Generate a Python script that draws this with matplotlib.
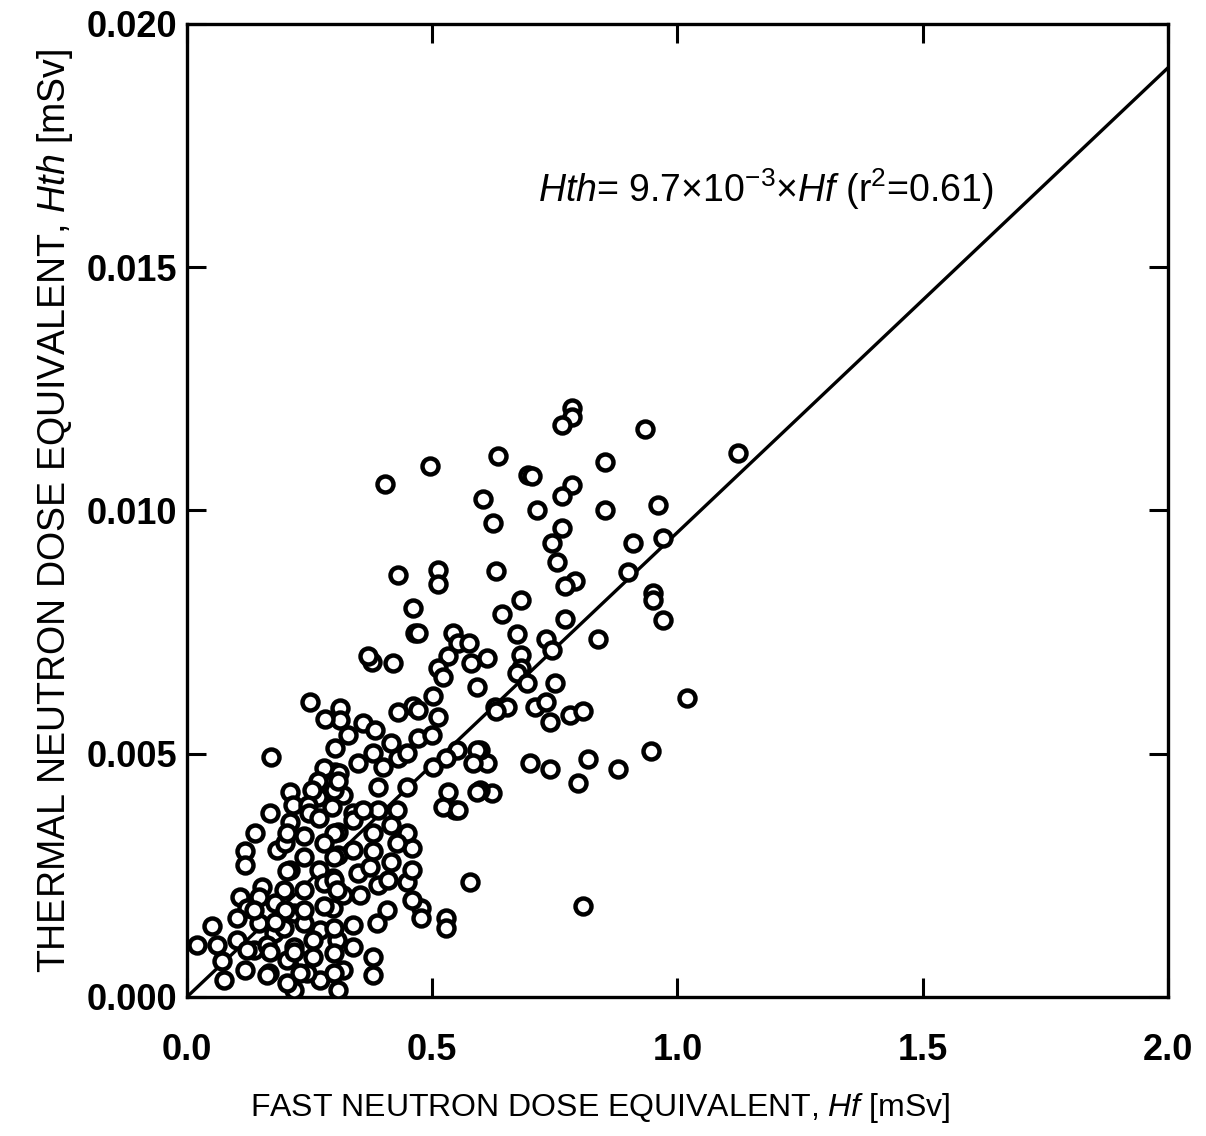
import matplotlib
matplotlib.use("Agg")
import matplotlib.pyplot as plt

# values (Hf and Hth in mSv)
hf_upper = [0.784, 0.784, 0.764, 0.934, 1.124, 0.635, 0.495, 0.404, 0.696, 0.703,
            0.852, 0.784, 0.764, 0.604, 0.713, 0.852, 0.961, 0.624, 0.764, 0.744,
            0.910, 0.971, 0.754, 0.900, 0.431, 0.512, 0.512, 0.631, 0.791, 0.771,
            0.951, 0.951, 0.971, 0.682, 0.461, 0.642, 0.771, 0.465, 0.472, 0.672,
            0.543, 0.553, 0.574, 0.733, 0.744, 0.839, 0.421, 0.533, 0.512, 0.523,
            0.580, 0.611, 0.591, 0.682, 0.682, 0.672, 0.693, 0.750, 1.019, 0.502,
            0.461, 0.472, 0.431, 0.512, 0.628, 0.652, 0.631, 0.709, 0.733, 0.781,
            0.808, 0.740, 0.947, 0.818, 0.879, 0.798, 0.699, 0.740, 0.611, 0.597,
            0.621, 0.597, 0.808]
hth_upper = [0.01210, 0.01193, 0.01176, 0.01167, 0.01118, 0.01111, 0.01092, 0.01054, 0.01073, 0.01071,
             0.01099, 0.01053, 0.01030, 0.01023, 0.01001, 0.01001, 0.01012, 0.00974, 0.00964, 0.00933,
             0.00933, 0.00943, 0.00895, 0.00874, 0.00868, 0.00878, 0.00849, 0.00876, 0.00856, 0.00844,
             0.00830, 0.00815, 0.00775, 0.00816, 0.00799, 0.00787, 0.00777, 0.00748, 0.00748, 0.00746,
             0.00748, 0.00728, 0.00727, 0.00735, 0.00713, 0.00735, 0.00687, 0.00700, 0.00676, 0.00657,
             0.00686, 0.00696, 0.00638, 0.00703, 0.00676, 0.00666, 0.00645, 0.00645, 0.00614, 0.00619,
             0.00598, 0.00589, 0.00585, 0.00576, 0.00597, 0.00597, 0.00587, 0.00597, 0.00607, 0.00580,
             0.00587, 0.00566, 0.00506, 0.00489, 0.00468, 0.00439, 0.00480, 0.00468, 0.00480, 0.00508,
             0.00420, 0.00426, 0.00187]

hf_mid = [0.377, 0.370, 0.312, 0.312, 0.359, 0.383, 0.329, 0.302, 0.417, 0.431, 0.472,
          0.499, 0.380, 0.349, 0.400, 0.448, 0.550, 0.529, 0.502, 0.591, 0.584,
          0.302, 0.390, 0.448, 0.319, 0.533, 0.591, 0.546, 0.390, 0.428, 0.339,
          0.523, 0.553, 0.577, 0.529, 0.529, 0.478, 0.478, 0.458, 0.448, 0.458,
          0.458, 0.448, 0.428, 0.417, 0.339, 0.380, 0.380, 0.417, 0.308, 0.349,
          0.390, 0.410, 0.319, 0.353, 0.407, 0.387, 0.298, 0.339, 0.305, 0.339,
          0.319, 0.380, 0.380, 0.308, 0.308, 0.339, 0.298, 0.373, 0.359]
hth_mid = [0.00689, 0.00700, 0.00594, 0.00569, 0.00563, 0.00549, 0.00539, 0.00511, 0.00522, 0.00491, 0.00532,
           0.00539, 0.00501, 0.00480, 0.00473, 0.00501, 0.00508, 0.00491, 0.00473, 0.00508, 0.00480,
           0.00463, 0.00432, 0.00432, 0.00415, 0.00422, 0.00422, 0.00384, 0.00384, 0.00384, 0.00378,
           0.00391, 0.00384, 0.00237, 0.00162, 0.00141, 0.00182, 0.00162, 0.00199, 0.00237, 0.00261,
           0.00306, 0.00337, 0.00316, 0.00354, 0.00364, 0.00337, 0.00299, 0.00278, 0.00292, 0.00254,
           0.00230, 0.00241, 0.00210, 0.00210, 0.00179, 0.00152, 0.00182, 0.00148, 0.00117, 0.00103,
           0.00056, 0.00083, 0.00045, 0.00014, 0.00340, 0.00302, 0.00244, 0.00268, 0.00384]

hf_low = [0.251, 0.171, 0.282, 0.279, 0.309, 0.268, 0.299, 0.211, 0.268, 0.170,
          0.308, 0.254, 0.217, 0.247, 0.295, 0.139, 0.119, 0.119, 0.183, 0.200,
          0.211, 0.248, 0.269, 0.299, 0.279, 0.238, 0.269, 0.211, 0.299, 0.153,
          0.197, 0.238, 0.279, 0.109, 0.146, 0.180, 0.218, 0.122, 0.102, 0.146,
          0.177, 0.197, 0.238, 0.272, 0.051, 0.020, 0.061, 0.102, 0.136, 0.163,
          0.071, 0.119, 0.167, 0.075, 0.204, 0.238, 0.258, 0.299, 0.218, 0.204,
          0.272, 0.170, 0.204, 0.238, 0.204, 0.299, 0.200, 0.238, 0.279, 0.299,
          0.258, 0.218, 0.136, 0.180, 0.299, 0.245, 0.306, 0.122, 0.163, 0.218,
          0.231]
hth_low = [0.00607, 0.00493, 0.00571, 0.00470, 0.00460, 0.00443, 0.00426, 0.00422, 0.00412, 0.00378,
           0.00443, 0.00426, 0.00395, 0.00395, 0.00391, 0.00337, 0.00299, 0.00271, 0.00302, 0.00317,
           0.00360, 0.00378, 0.00367, 0.00337, 0.00316, 0.00288, 0.00261, 0.00261, 0.00288, 0.00227,
           0.00220, 0.00220, 0.00234, 0.00206, 0.00206, 0.00193, 0.00172, 0.00182, 0.00162, 0.00152,
           0.00131, 0.00141, 0.00152, 0.00138, 0.00145, 0.00107, 0.00107, 0.00117, 0.00097, 0.00107,
           0.00073, 0.00056, 0.00049, 0.00035, 0.00076, 0.00073, 0.00083, 0.00090, 0.00014, 0.00028,
           0.00035, 0.00093, 0.00337, 0.00330, 0.00258, 0.00241, 0.00179, 0.00179, 0.00186, 0.00141,
           0.00117, 0.00103, 0.00179, 0.00155, 0.00049, 0.00049, 0.00220, 0.00097, 0.00045, 0.00093,
           0.00049]

fit_x = [0.0, 2.0]
fit_y = [0.0, 0.0191]

hf = hf_upper + hf_mid + hf_low
hth = hth_upper + hth_mid + hth_low

plt.rcParams["font.family"] = ["Liberation Sans", "DejaVu Sans"]
plt.rcParams["mathtext.fontset"] = "custom"
plt.rcParams["mathtext.rm"] = "Liberation Sans"
plt.rcParams["mathtext.it"] = "Liberation Sans:italic"

fig = plt.figure(figsize=(12.06, 11.36), dpi=100)
ax = fig.add_axes([0.155, 0.1224, 0.8135, 0.8565])

ax.plot(fit_x, fit_y, color="black", lw=2.4, zorder=2)
ax.plot(hf, hth, linestyle="none", marker="o", ms=11.5, mew=3.2,
        mfc="white", mec="black", zorder=3)

ax.set_xlim(0, 2.0)
ax.set_ylim(0, 0.020)
ax.set_xticks([0.0, 0.5, 1.0, 1.5, 2.0])
ax.set_yticks([0.000, 0.005, 0.010, 0.015, 0.020])
ax.set_xticklabels(["0.0", "0.5", "1.0", "1.5", "2.0"])
ax.set_yticklabels(["0.000", "0.005", "0.010", "0.015", "0.020"])
ax.tick_params(direction="in", length=14, width=2.2, top=True, right=True,
               labelsize=26, pad=7)
ax.tick_params(axis="x", pad=26)
for lbl in ax.get_xticklabels() + ax.get_yticklabels():
    lbl.set_fontweight("bold")
for sp in ax.spines.values():
    sp.set_linewidth(2.4)

ax.set_ylabel(r"THERMAL NEUTRON DOSE EQUIVALENT, $Hth$ [mSv]",
              fontsize=27, labelpad=8)
# x label sits left of the axes centre in the original
fig.text(0.498, 0.025, r"FAST NEUTRON DOSE EQUIVALENT, $Hf$ [mSv]",
         fontsize=23, ha="center", va="center")

ax.text(0.715, 0.0166, r"$Hth$= 9.7×10$^{-3}$×$Hf$ (r$^2$=0.61)",
        fontsize=27, ha="left", va="center")

fig.savefig("out.png", dpi=100)
